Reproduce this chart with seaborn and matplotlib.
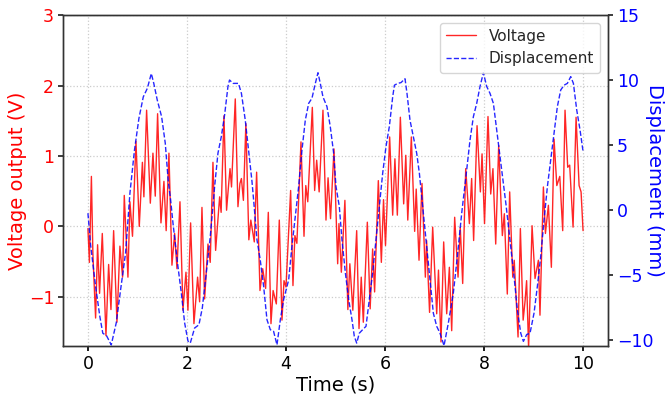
import numpy as np
import pandas as pd
import matplotlib
matplotlib.use("Agg")
import matplotlib.pyplot as plt
import seaborn as sns

# ---- data ----
volt_time = [0.00, 0.03, 0.07, 0.10, 0.155, 0.195, 0.235, 0.29, 0.364, 0.418, 0.465, 0.519,
             0.586, 0.646, 0.70, 0.734, 0.808, 0.848, 0.90, 0.97, 1.037, 1.10, 1.13, 1.185,
             1.26, 1.313, 1.36, 1.407, 1.475, 1.535, 1.58, 1.636, 1.697, 1.751, 1.798, 1.859,
             1.919, 1.98, 2.02, 2.074, 2.141, 2.215, 2.256, 2.303, 2.357, 2.424, 2.47, 2.525,
             2.579, 2.66, 2.69, 2.747, 2.80, 2.84, 2.87, 2.90, 2.976, 3.03, 3.07, 3.10, 3.14,
             3.19, 3.25, 3.29, 3.36, 3.407, 3.475, 3.53, 3.589, 3.643, 3.697, 3.74, 3.805,
             3.865, 3.919, 3.96, 4.00, 4.094, 4.141, 4.18, 4.22, 4.303, 4.364, 4.40, 4.44,
             4.532, 4.579, 4.62, 4.67, 4.747, 4.808, 4.85, 4.90, 4.97, 5.044, 5.07, 5.118,
             5.19, 5.25, 5.29, 5.35, 5.428, 5.475, 5.52, 5.562, 5.643, 5.70, 5.75, 5.79,
             5.865, 5.926, 5.97, 6.01, 6.094, 6.155, 6.20, 6.249, 6.31, 6.377, 6.42, 6.46,
             6.532, 6.599, 6.63, 6.687, 6.747, 6.815, 6.84, 6.90, 6.963, 7.044, 7.08, 7.131,
             7.185, 7.246, 7.30, 7.347, 7.407, 7.475, 7.52, 7.569, 7.63, 7.704, 7.75, 7.79,
             7.859, 7.926, 7.96, 8.01, 8.08, 8.135, 8.18, 8.236, 8.296, 8.37, 8.41, 8.47,
             8.518, 8.58, 8.61, 8.687, 8.734, 8.79, 8.83, 8.86, 8.90, 8.97, 9.03, 9.098,
             9.13, 9.199, 9.24, 9.30, 9.36, 9.414, 9.47, 9.53, 9.589, 9.636, 9.69, 9.73,
             9.798, 9.859, 9.92, 9.96, 10.00]
voltage = [-0.03, -0.51, 0.71, -0.39, -1.30, -0.26, -0.95, -0.10, -1.55, -0.54, -1.18, -0.06,
           -1.36, -0.28, -0.72, 0.44, -0.72, 0.35, -0.14, 1.21, 0.00, 0.91, 0.42, 1.65,
           0.33, 1.04, 0.43, 1.60, 0.05, 0.64, -0.06, 1.04, -0.55, -0.10, -0.60, 0.35,
           -1.19, -0.65, -1.19, 0.05, -1.38, -0.72, -1.07, 0.27, -1.03, -0.25, -0.51, 0.91,
           -0.34, 0.42, 0.20, 1.57, 0.23, 0.58, 0.82, 0.56, 1.81, 0.28, 0.61, 0.68, 0.37,
           1.46, -0.19, 0.09, -0.22, 0.77, -0.91, -0.60, -0.88, 0.20, -1.38, -0.91, -1.10,
           0.09, -1.33, -0.77, -0.86, 0.51, -0.84, -0.13, -0.24, 1.20, -0.14, 0.58, 0.35,
           1.69, 0.51, 0.94, 0.49, 1.65, 0.09, 0.69, 0.11, 1.10, -0.53, 0.04, -0.65,
           0.37, -1.18, -0.53, -1.19, -0.06, -1.45, -0.72, -1.36, 0.06, -1.17, -0.32, -0.93,
           0.65, -0.51, 0.38, -0.27, 1.27, 0.16, 0.96, 0.16, 1.55, 0.32, 1.01, 0.09,
           1.27, -0.07, 0.53, -0.48, 0.61, -0.72, -0.20, -1.22, -0.01, -1.24, -0.62, -1.64,
           -0.22, -1.24, -0.58, -1.48, 0.13, -0.72, -0.01, -0.81, 0.82, 0.04, 0.68, -0.20,
           1.43, 0.49, 1.03, 0.04, 1.56, 0.46, 0.82, -0.25, 1.15, -0.13, 0.18, -0.96,
           0.49, -0.72, -0.48, -1.57, -0.03, -1.33, -1.05, -0.77, -1.73, 0.01, -0.74, -0.48,
           -1.26, 0.56, -0.10, 0.30, -0.58, 1.24, 0.58, 0.71, -0.06, 1.65, 0.84, 0.87,
           -0.01, 1.55, 0.58, 0.49, -0.06]

disp_time = [0.00, 0.054, 0.155, 0.24, 0.30, 0.377, 0.471, 0.572, 0.66, 0.76, 0.848, 0.94,
             1.03, 1.118, 1.20, 1.28, 1.33, 1.40, 1.488, 1.562, 1.62, 1.67, 1.717, 1.818,
             1.886, 1.953, 2.02, 2.067, 2.155, 2.242, 2.31, 2.39, 2.471, 2.559, 2.626, 2.694,
             2.76, 2.828, 2.86, 2.93, 3.04, 3.10, 3.178, 3.266, 3.313, 3.35, 3.414, 3.48,
             3.549, 3.616, 3.684, 3.75, 3.818, 3.886, 3.953, 4.054, 4.12, 4.189, 4.256, 4.323,
             4.39, 4.458, 4.525, 4.593, 4.646, 4.693, 4.747, 4.828, 4.895, 4.963, 5.01, 5.077,
             5.131, 5.20, 5.266, 5.333, 5.38, 5.428, 5.481, 5.548, 5.616, 5.683, 5.75, 5.818,
             5.886, 5.953, 6.02, 6.087, 6.155, 6.19, 6.256, 6.323, 6.404, 6.444, 6.505, 6.572,
             6.64, 6.694, 6.747, 6.774, 6.84, 6.909, 6.976, 7.044, 7.111, 7.192, 7.279, 7.38,
             7.461, 7.549, 7.65, 7.717, 7.785, 7.852, 7.919, 7.987, 8.054, 8.121, 8.189, 8.256,
             8.323, 8.391, 8.444, 8.471, 8.539, 8.606, 8.673, 8.741, 8.795, 8.862, 8.929, 9.01,
             9.077, 9.145, 9.212, 9.28, 9.347, 9.414, 9.481, 9.549, 9.616, 9.683, 9.751, 9.805,
             9.872, 9.939, 10.00]
displacement = [-0.26, -2.69, -5.9, -8.2, -9.5, -9.7, -10.4, -8.7, -6.15, -3.33, 1.28, 4.6,
                7.05, 8.7, 9.36, 10.5, 9.74, 8.46, 7.18, 5.13, 2.3, 0.77, -1.0, -4.36,
                -6.4, -8.7, -10.1, -10.26, -9.1, -8.85, -7.56, -4.87, -2.05, 1.8, 4.36, 5.64,
                7.3, 9.5, 10.0, 9.74, 9.74, 8.97, 6.9, 3.85, 2.2, 0.6, -2.31, -3.85,
                -5.9, -8.46, -9.23, -9.36, -10.4, -8.46, -6.9, -5.4, -2.82, -0.51, 1.8, 4.6,
                6.9, 8.2, 8.6, 9.74, 10.56, 9.74, 8.7, 7.95, 6.4, 4.36, 1.8, 0.26,
                -2.3, -4.87, -6.9, -8.46, -9.74, -10.26, -9.5, -9.23, -8.97, -6.9, -4.87, -2.31,
                0.26, 2.82, 4.87, 6.4, 8.7, 9.6, 9.74, 9.8, 10.1, 8.97, 6.9, 5.64,
                4.36, 2.82, 0.8, -0.26, -2.82, -5.38, -7.95, -8.97, -9.5, -10.46, -8.72, -6.41,
                -3.59, -0.26, 3.08, 5.38, 7.18, 8.2, 9.5, 10.56, 9.5, 8.97, 8.2, 6.15,
                4.1, 2.05, 0.4, -0.51, -2.82, -5.13, -7.69, -9.49, -10.13, -9.6, -9.5, -7.95,
                -5.9, -3.59, -0.77, 1.8, 3.85, 5.9, 7.95, 9.23, 9.6, 9.74, 10.26, 9.74,
                7.7, 6.15, 4.5]

x_ticks = [0, 2, 4, 6, 8, 10]
left_ticks = [-1, 0, 1, 2, 3]
right_ticks = [-10, -5, 0, 5, 10, 15]

volt_df = pd.DataFrame({"Time": volt_time, "Voltage": voltage})
disp_df = pd.DataFrame({"Time": disp_time, "Displacement": displacement})

sns.set_theme(style="white")
plt.rcParams["font.family"] = ["DejaVu Sans"]

fig, ax1 = plt.subplots(figsize=(6.65, 3.97), dpi=100)
fig.subplots_adjust(left=0.095, right=0.914, top=0.962, bottom=0.128)

sns.lineplot(data=volt_df, x="Time", y="Voltage", ax=ax1, color="red",
             linewidth=1.0, alpha=0.85, label="Voltage", legend=False, estimator=None)
ax2 = ax1.twinx()
sns.lineplot(data=disp_df, x="Time", y="Displacement", ax=ax2, color="blue",
             linewidth=1.0, alpha=0.85, linestyle="--", label="Displacement",
             legend=False, estimator=None)

ax1.set_xlim(-0.5, 10.5)
ax1.set_ylim(-1.7, 3)
ax2.set_ylim(-10.5, 15)
ax1.set_xticks(x_ticks)
ax1.set_yticks(left_ticks)
ax2.set_yticks(right_ticks)

ax1.grid(True, linestyle=":", color="#cccccc", linewidth=0.9)
ax2.grid(False)

ax1.set_xlabel("Time (s)", fontsize=14, color="black", labelpad=2)
ax1.set_ylabel("Voltage output (V)", fontsize=14, color="red", va="center")
ax2.set_ylabel("Displacement (mm)", fontsize=14, color="blue", rotation=270, va="center")
ax1.yaxis.set_label_coords(-0.083, 0.5)
ax2.yaxis.set_label_coords(1.085, 0.5)

ax1.tick_params(axis="x", labelsize=12.5, colors="black", length=3.5, pad=3,
                direction="out", bottom=True)
ax1.tick_params(axis="y", labelsize=12.5, labelcolor="red", length=3.5, pad=3, left=True)
ax2.tick_params(axis="y", labelsize=12.5, labelcolor="blue", length=3.5, pad=3, right=True)

for ax in (ax1, ax2):
    for s in ax.spines.values():
        s.set_color("#333333")
        s.set_linewidth(1.0)

h1, l1 = ax1.get_legend_handles_labels()
h2, l2 = ax2.get_legend_handles_labels()
ax2.legend(h1 + h2, l1 + l2, loc="upper right", fontsize=11, frameon=True)

fig.savefig("out.png", dpi=100)
